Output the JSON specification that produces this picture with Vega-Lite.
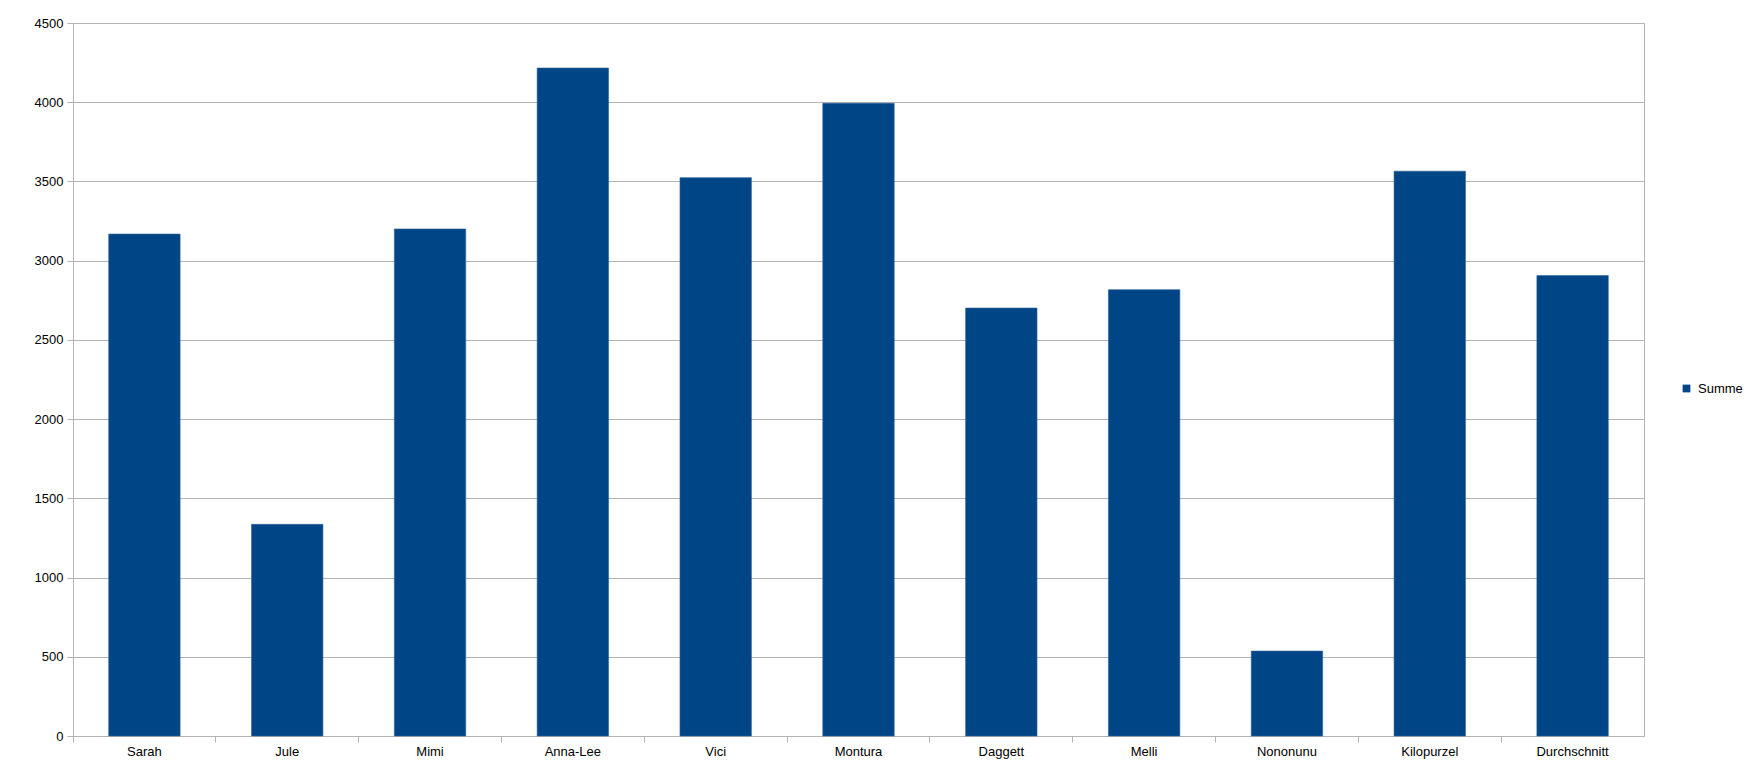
{
  "$schema": "https://vega.github.io/schema/vega-lite/v6.json",
  "autosize": {"type": "none"},
  "padding": {"left": 73, "top": 23, "right": 108, "bottom": 40},
  "width": 1571,
  "height": 713,
  "background": "white",
  "config": {
    "font": "Liberation Sans",
    "view": {"stroke": "#b3b3b3", "strokeWidth": 1},
    "axis": {
      "labelFont": "Liberation Sans",
      "labelFontSize": 13,
      "labelColor": "#000000",
      "domainColor": "#b3b3b3",
      "tickColor": "#b3b3b3",
      "gridColor": "#b3b3b3",
      "tickSize": 6,
      "title": null
    }
  },
  "data": {
    "values": [
      {"name": "Sarah", "value": 3168, "series": "Summe"},
      {"name": "Jule", "value": 1336, "series": "Summe"},
      {"name": "Mimi", "value": 3200, "series": "Summe"},
      {"name": "Anna-Lee", "value": 4216, "series": "Summe"},
      {"name": "Vici", "value": 3524, "series": "Summe"},
      {"name": "Montura", "value": 3993, "series": "Summe"},
      {"name": "Daggett", "value": 2701, "series": "Summe"},
      {"name": "Melli", "value": 2817, "series": "Summe"},
      {"name": "Nononunu", "value": 536, "series": "Summe"},
      {"name": "Kilopurzel", "value": 3565, "series": "Summe"},
      {"name": "Durchschnitt", "value": 2906, "series": "Summe"}
    ]
  },
  "mark": {"type": "bar", "stroke": "#2e6199", "strokeWidth": 0.6},
  "encoding": {
    "x": {
      "field": "name",
      "type": "nominal",
      "sort": null,
      "scale": {"paddingInner": 0.5, "paddingOuter": 0.25},
      "axis": {
        "labelAngle": 0,
        "labelPadding": 3,
        "bandPosition": -0.5,
        "grid": false,
        "labelBaseline": "top"
      }
    },
    "y": {
      "field": "value",
      "type": "quantitative",
      "scale": {"domain": [0, 4500], "nice": false},
      "axis": {
        "values": [0, 500, 1000, 1500, 2000, 2500, 3000, 3500, 4000, 4500],
        "format": "d",
        "grid": true,
        "labelPadding": 4
      }
    },
    "color": {
      "field": "series",
      "type": "nominal",
      "scale": {"range": ["#004586"]},
      "legend": {
        "title": null,
        "orient": "none",
        "legendX": 1607,
        "legendY": 359,
        "symbolType": "square",
        "symbolSize": 60,
        "symbolStrokeWidth": 0,
        "labelFont": "Liberation Sans",
        "labelFontSize": 13,
        "labelColor": "#000000",
        "labelOffset": 5
      }
    }
  }
}
